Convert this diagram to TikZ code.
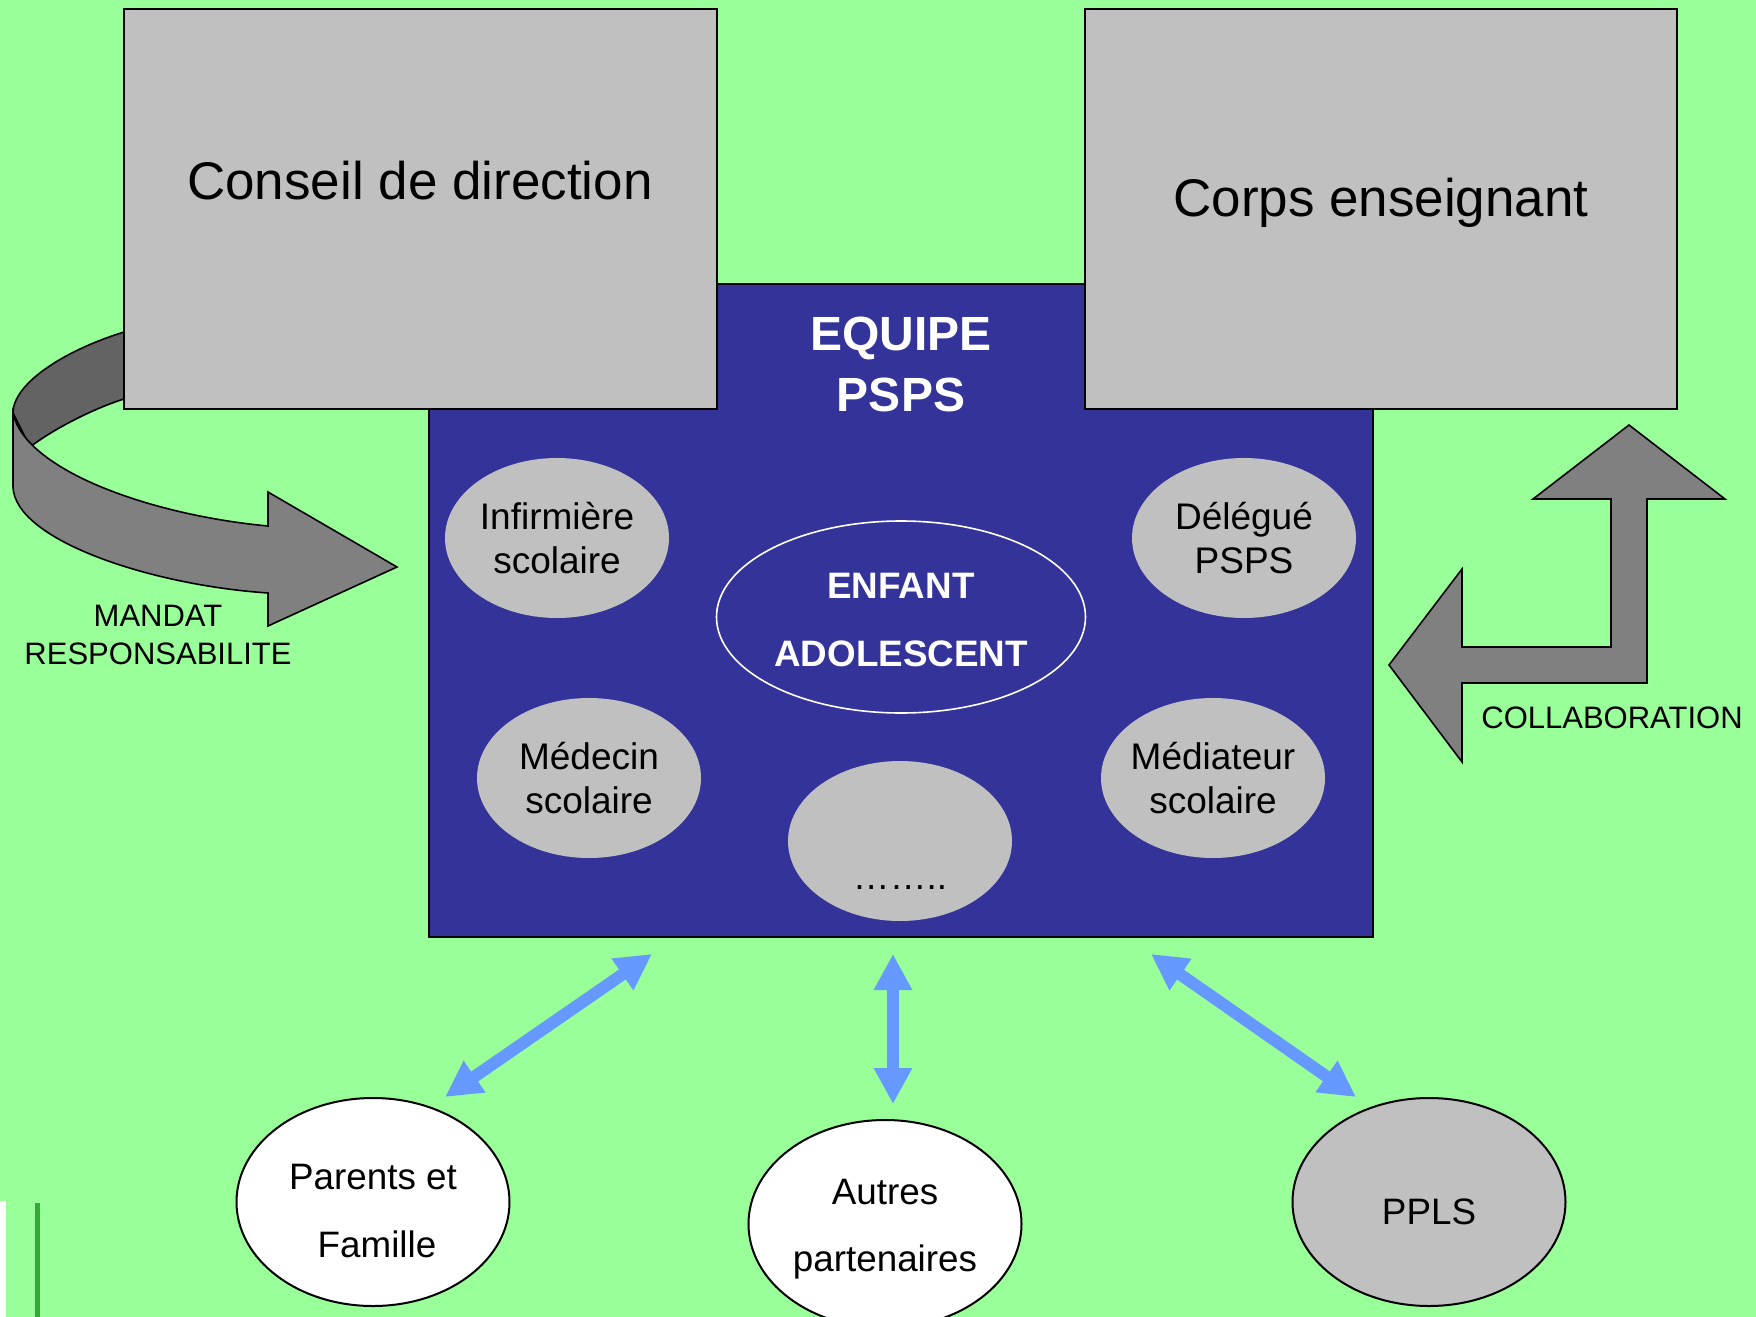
\documentclass[tikz,border=0pt]{standalone}
\usepackage{fontspec}
\setmainfont{Liberation Sans}
\usetikzlibrary{arrows.meta,shapes.geometric}
\definecolor{bg}{HTML}{99FF99}
\definecolor{navy}{HTML}{333399}
\definecolor{lgray}{HTML}{C0C0C0}
\definecolor{mgray}{HTML}{808080}
\definecolor{dgray}{HTML}{636363}
\definecolor{arrowblue}{HTML}{6699FF}
\definecolor{dgreen}{HTML}{33AA33}
\begin{document}
\begin{tikzpicture}[x=0.5pt,y=-0.5pt,
  graybox/.style={draw=black,line width=0.75pt,fill=lgray,inner sep=0pt},
  inell/.style={ellipse,fill=lgray,inner sep=-8pt,minimum width=112pt,minimum height=80pt,
    align=center,font=\fontsize{18.5}{22.4}\selectfont},
  outell/.style={ellipse,draw=black,line width=1pt,inner sep=0pt,minimum width=136.5pt,minimum height=104pt},
  outtxt/.style={align=center,font=\fontsize{18.4}{33.6}\selectfont},
  bigtxt/.style={font=\fontsize{26.5}{32}\selectfont},
  smalltxt/.style={align=center,font=\fontsize{15.5}{19}\selectfont},
  fatarrow/.style={draw=black,line width=0.8pt,line join=miter},
  linkarrow/.style={draw=arrowblue,line width=6pt,
    {Triangle[length=18pt,width=18pt]}-{Triangle[length=18pt,width=18pt]}}
]
\fill[bg] (0,0) rectangle (1756,1317);
\useasboundingbox (0,0) rectangle (1756,1317);

% bottom-left edge artefact
\fill[white] (0,1201) rectangle (6,1317);
\fill[dgreen] (35,1203) rectangle (40,1317);

% central team box
\node[draw=black,line width=0.75pt,fill=navy,minimum width=472pt,minimum height=326.5pt,inner sep=0pt]
  (team) at (901,610.5) {};

% curved arrow (mandat)
\path[fatarrow,fill=dgray] (124,332) .. controls (60,352) and (13,385) .. (13,413)
  -- (30,447) .. controls (55,428) and (95,408) .. (124,399) -- cycle;
\path[fatarrow,fill=mgray] (13,413) .. controls (25,470) and (150,515) .. (268,526)
  -- (268,492) -- (397,567) -- (268,626) -- (268,593)
  .. controls (150,585) and (15,540) .. (13,487) -- cycle;

% top boxes
\node[graybox,minimum width=296.5pt,minimum height=200pt] (conseil) at (420.5,209) {};
\node[bigtxt] (conseiltxt) at (420,181) {Conseil de direction};
\node[graybox,minimum width=296pt,minimum height=200pt] (corps) at (1381,209) {};
\node[bigtxt] (corpstxt) at (1381,203) {Corps enseignant};

% team title
\node[text=white,align=center,font=\bfseries\fontsize{24}{30.5}\selectfont] (equipe) at (901,364) {EQUIPE\\PSPS};

% inner ellipses
\node[inell] (inf) at (557,538) {Infirmière\\scolaire};
\node[inell] (del) at (1244,538) {Délégué\\PSPS};
\node[inell] (med) at (589,778) {Médecin\\scolaire};
\node[inell] (mediat) at (1213,778) {Médiateur\\scolaire};
\node[inell] (dots) at (900,841) {};
\node[anchor=base,font=\fontsize{18.4}{22}\selectfont] (dotstxt) at (900,889) {……..};
\node[ellipse,draw=white,line width=0.8pt,minimum width=184.5pt,minimum height=96pt,inner sep=0pt]
  (enfant) at (901,617) {};
\node[text=white,align=center,font=\bfseries\fontsize{18.4}{33.6}\selectfont] (enfanttxt)
  at ([yshift=-1.5pt]enfant.center) {ENFANT\\ADOLESCENT};

% collaboration arrow
\path[fatarrow,fill=mgray] (1389,665) -- (1462,569) -- (1462,647) -- (1611,647) -- (1611,499)
  -- (1533,499) -- (1629,425) -- (1725,499) -- (1647,499) -- (1647,683) -- (1462,683)
  -- (1462,762) -- cycle;
\node[smalltxt] (collab) at (1612,718) {COLLABORATION};
\node[smalltxt] (mandat) at (158,635) {MANDAT\\RESPONSABILITE};

% bottom ellipses
\node[outell,fill=white] (parents) at (373,1202) {};
\node[outtxt] (parentstxt) at ([yshift=-4.5pt]parents.center) {Parents et\\\hspace*{4pt}Famille};
\node[outell,fill=white] (autres) at (885,1224) {};
\node[outtxt] (autrestxt) at ([yshift=-2.5pt]autres.center) {Autres\\partenaires};
\node[outell,fill=lgray] (ppls) at (1429,1202) {};
\node[outtxt] (pplstxt) at ([yshift=-5pt]ppls.center) {PPLS};

% link arrows
\coordinate (pa) at (445,1097);
\coordinate (pb) at (652,954);
\coordinate (ma) at (893,954);
\coordinate (mb) at (893,1104);
\coordinate (ra) at (1151,954);
\coordinate (rb) at (1356,1097);
\draw[linkarrow] (pa) -- (pb);
\draw[linkarrow] (ma) -- (mb);
\draw[linkarrow] (ra) -- (rb);
\end{tikzpicture}
\end{document}
